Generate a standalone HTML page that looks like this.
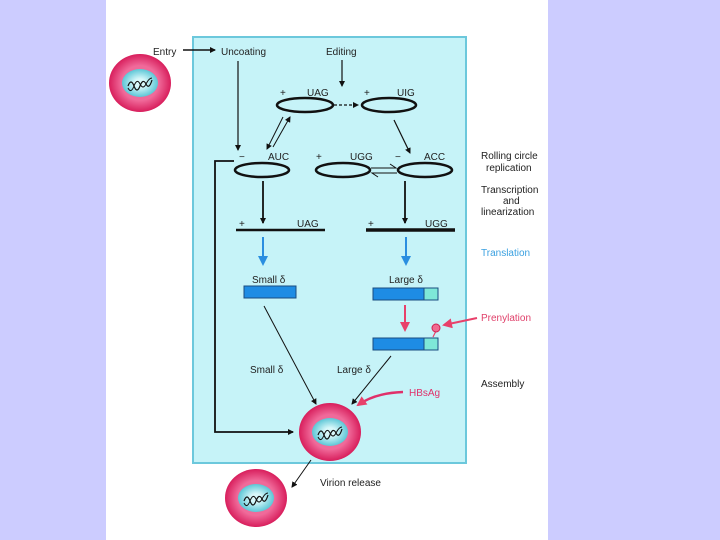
<!DOCTYPE html>
<html><head><meta charset="utf-8"><style>
html,body{margin:0;padding:0;width:720px;height:540px;overflow:hidden;background:#fff}
svg{display:block}
text{font-family:"Liberation Sans",Arial,sans-serif;font-size:10px;fill:#222}
</style></head><body>
<svg width="720" height="540" viewBox="0 0 720 540">
<defs>
<marker id="a" markerWidth="6" markerHeight="6" refX="5" refY="3" orient="auto" markerUnits="userSpaceOnUse"><path d="M0,0 L6,3 L0,6z" fill="#111"/></marker>
<marker id="ab" markerWidth="10" markerHeight="10" refX="8" refY="5" orient="auto" markerUnits="userSpaceOnUse"><path d="M0,0 L10,5 L0,10z" fill="#2a8ee0"/></marker>
<marker id="ap" markerWidth="10" markerHeight="10" refX="8" refY="5" orient="auto" markerUnits="userSpaceOnUse"><path d="M0,0 L10,5 L0,10z" fill="#e8406a"/></marker>
<radialGradient id="pk"><stop offset="0.6" stop-color="#f06a9a"/><stop offset="1" stop-color="#d81e5c"/></radialGradient>
<radialGradient id="cy"><stop offset="0.3" stop-color="#d8f8fa"/><stop offset="1" stop-color="#5cc6d6"/></radialGradient>
<g id="vir">
<ellipse cx="0" cy="0" rx="31" ry="29" fill="url(#pk)"/>
<ellipse cx="0" cy="0" rx="18" ry="14" fill="url(#cy)"/>
<path d="M-12,3 q3,-8 6,0 t6,0 t6,-2 t6,-4" fill="none" stroke="#111" stroke-width="1.2"/>
<path d="M-12,5 q3,6 6,-2 t6,-2 t6,0 t6,-6" fill="none" stroke="#111" stroke-width="1"/>
</g>
</defs>
<rect x="0" y="0" width="106" height="540" fill="#ccccff"/>
<rect x="548" y="0" width="172" height="540" fill="#ccccff"/>
<rect x="193" y="37" width="273" height="426" fill="#c6f3f8" stroke="#6cc8dc" stroke-width="2"/>
<use href="#vir" x="140" y="83"/>
<use href="#vir" x="330" y="432"/>
<use href="#vir" x="256" y="498"/>
<text x="153" y="55">Entry</text>
<line x1="183" y1="50" x2="215" y2="50" stroke="#111" stroke-width="1.5" marker-end="url(#a)"/>
<text x="221" y="55">Uncoating</text>
<text x="326" y="55">Editing</text>
<line x1="342" y1="60" x2="342" y2="86" stroke="#111" stroke-width="1.2" marker-end="url(#a)"/>
<line x1="238" y1="61" x2="238" y2="150" stroke="#111" stroke-width="1.2" marker-end="url(#a)"/>
<g fill="none" stroke="#111" stroke-width="2.5">
<ellipse cx="305" cy="105" rx="28" ry="7"/>
<ellipse cx="389" cy="105" rx="27" ry="7"/>
<ellipse cx="262" cy="170" rx="27" ry="7"/>
<ellipse cx="343" cy="170" rx="27" ry="7"/>
<ellipse cx="425" cy="170" rx="27" ry="7"/>
</g>
<text x="280" y="96">+</text><text x="307" y="96">UAG</text>
<text x="364" y="96">+</text><text x="397" y="96">UIG</text>
<text x="239" y="160">−</text><text x="268" y="160">AUC</text>
<text x="316" y="160">+</text><text x="350" y="160">UGG</text>
<text x="395" y="160">−</text><text x="424" y="160">ACC</text>
<line x1="334" y1="105" x2="358" y2="105" stroke="#111" stroke-width="1.2" stroke-dasharray="3,2" marker-end="url(#a)"/>
<line x1="394" y1="120" x2="410" y2="153" stroke="#111" stroke-width="1.2" marker-end="url(#a)"/>
<line x1="273" y1="147" x2="290" y2="117" stroke="#111" stroke-width="1" marker-end="url(#a)"/>
<line x1="283" y1="117" x2="267" y2="149" stroke="#111" stroke-width="1" marker-end="url(#a)"/>
<path d="M371,168 L396,168 L390,164" fill="none" stroke="#111" stroke-width="1"/>
<path d="M397,173 L372,173 L378,177" fill="none" stroke="#111" stroke-width="1"/>
<path d="M234,161 L215,161 L215,432 L293,432" fill="none" stroke="#111" stroke-width="1.8" marker-end="url(#a)"/>
<line x1="263" y1="181" x2="263" y2="223" stroke="#111" stroke-width="1.8" marker-end="url(#a)"/>
<line x1="405" y1="181" x2="405" y2="223" stroke="#111" stroke-width="1.8" marker-end="url(#a)"/>
<line x1="236" y1="230" x2="325" y2="230" stroke="#111" stroke-width="2.5"/>
<line x1="366" y1="230" x2="455" y2="230" stroke="#111" stroke-width="3.5"/>
<text x="239" y="227">+</text><text x="297" y="227">UAG</text>
<text x="368" y="227">+</text><text x="425" y="227">UGG</text>
<line x1="263" y1="237" x2="263" y2="264" stroke="#2a8ee0" stroke-width="2" marker-end="url(#ab)"/>
<line x1="406" y1="237" x2="406" y2="264" stroke="#2a8ee0" stroke-width="2" marker-end="url(#ab)"/>
<text x="252" y="283">Small δ</text>
<text x="389" y="283">Large δ</text>
<rect x="244" y="286" width="52" height="12" fill="#1e8ce4" stroke="#1a4c80"/>
<rect x="373" y="288" width="51" height="12" fill="#1e8ce4" stroke="#1a4c80"/>
<rect x="424" y="288" width="14" height="12" fill="#7ee8d8" stroke="#1a4c80"/>
<line x1="405" y1="305" x2="405" y2="330" stroke="#e8406a" stroke-width="2" marker-end="url(#ap)"/>
<rect x="373" y="338" width="51" height="12" fill="#1e8ce4" stroke="#1a4c80"/>
<rect x="424" y="338" width="14" height="12" fill="#7ee8d8" stroke="#1a4c80"/>
<line x1="433" y1="337" x2="436" y2="331" stroke="#e8406a" stroke-width="1.2"/>
<circle cx="436" cy="328" r="4" fill="#f06a90" stroke="#d02050"/>
<line x1="477" y1="318" x2="444" y2="325" stroke="#e8406a" stroke-width="2" marker-end="url(#ap)"/>
<line x1="264" y1="306" x2="316" y2="404" stroke="#111" stroke-width="1" marker-end="url(#a)"/>
<line x1="391" y1="356" x2="352" y2="404" stroke="#111" stroke-width="1" marker-end="url(#a)"/>
<text x="250" y="373">Small δ</text>
<text x="337" y="373">Large δ</text>
<text x="409" y="396" style="fill:#e0306a">HBsAg</text>
<path d="M403,392 Q375,393 358,405" fill="none" stroke="#e0306a" stroke-width="2.5" marker-end="url(#ap)"/>
<line x1="311" y1="460" x2="292" y2="487" stroke="#111" stroke-width="1" marker-end="url(#a)"/>
<text x="320" y="486">Virion release</text>
<g style="font-size:10px">
<text x="481" y="159">Rolling circle</text>
<text x="486" y="171">replication</text>
<text x="481" y="193">Transcription</text>
<text x="503" y="204">and</text>
<text x="481" y="215">linearization</text>
<text x="481" y="256" style="fill:#3aa0e0">Translation</text>
<text x="481" y="321" style="fill:#e0406a">Prenylation</text>
<text x="481" y="387">Assembly</text>
</g>
</svg>
</body></html>
